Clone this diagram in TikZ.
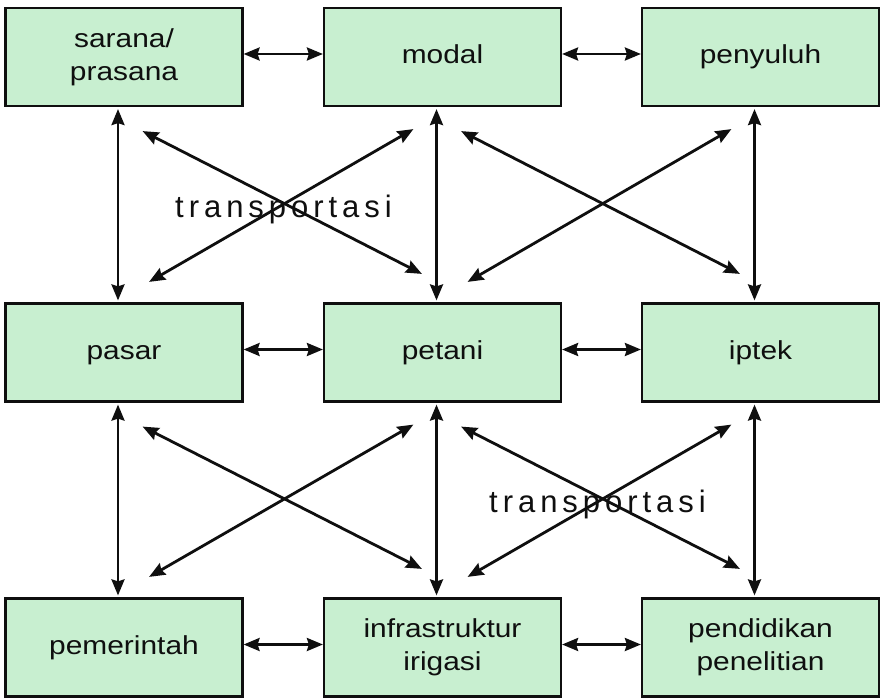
\documentclass[tikz,border=0pt]{standalone}
\usepackage{fontspec}
\setmainfont{Liberation Sans}
\newfontfamily\boxfont[FakeStretch=1.15]{Liberation Sans}
\newfontfamily\trfont[LetterSpace=16]{Liberation Sans}
\usetikzlibrary{arrows.meta}
\definecolor{boxgreen}{RGB}{200,239,208}
\definecolor{ink}{RGB}{15,15,15}
\newcommand{\bxt}[1]{\raisebox{-4pt}{\begin{tabular}{@{}c@{}}#1\end{tabular}}}
\begin{document}
\begin{tikzpicture}[x=1pt,y=-1pt,
  box/.style={draw=ink, line width=2.2pt, fill=boxgreen, minimum width=237pt, minimum height=98pt, inner sep=0pt, font=\boxfont\fontsize{26}{33}\selectfont, text=ink},
  link/.style={draw=ink, line width=2.8pt, {Stealth[length=16pt,width=13pt,inset=2pt]}-{Stealth[length=16pt,width=13pt,inset=2pt]}},
  lbl/.style={font=\trfont\fontsize{31}{36}\selectfont, text=ink, anchor=base, inner sep=0pt}]
\useasboundingbox (0,0) rectangle (880,700);
\fill[white] (0,0) rectangle (880,700);
\node[box] (sarana) at (124,57) {\bxt{sarana/\\prasana}};
\node[box] (modal) at (442.5,57) {\bxt{modal}};
\node[box] (penyuluh) at (760.5,57) {\bxt{penyuluh}};
\node[box] (pasar) at (124,352.5) {\bxt{pasar}};
\node[box] (petani) at (442.5,352.5) {\bxt{petani}};
\node[box] (iptek) at (760.5,352.5) {\bxt{iptek}};
\node[box] (pemerintah) at (124,647.5) {\bxt{pemerintah}};
\node[box] (infra) at (442.5,647.5) {\bxt{infrastruktur\\irigasi}};
\node[box] (pendidikan) at (760.5,647.5) {\bxt{pendidikan\\penelitian}};
% horizontal
\draw[link] ([yshift=3pt]sarana.east) -- ([yshift=3pt]modal.west);
\draw[link] ([yshift=3pt]modal.east) -- ([yshift=3pt]penyuluh.west);
\draw[link] ([yshift=3pt]pasar.east) -- ([yshift=3pt]petani.west);
\draw[link] ([yshift=3pt]petani.east) -- ([yshift=3pt]iptek.west);
\draw[link] ([yshift=3pt]pemerintah.east) -- ([yshift=3pt]infra.west);
\draw[link] ([yshift=3pt]infra.east) -- ([yshift=3pt]pendidikan.west);
% vertical
\draw[link, shorten <=2pt, shorten >=2pt] ([xshift=-6pt]sarana.south) -- ([xshift=-6pt]pasar.north);
\draw[link, shorten <=2pt, shorten >=2pt] ([xshift=-6pt]modal.south) -- ([xshift=-6pt]petani.north);
\draw[link, shorten <=2pt, shorten >=2pt] ([xshift=-6pt]penyuluh.south) -- ([xshift=-6pt]iptek.north);
\draw[link, shorten <=2pt, shorten >=2pt] ([xshift=-6pt]pasar.south) -- ([xshift=-6pt]pemerintah.north);
\draw[link, shorten <=2pt, shorten >=2pt] ([xshift=-6pt]petani.south) -- ([xshift=-6pt]infra.north);
\draw[link, shorten <=2pt, shorten >=2pt] ([xshift=-6pt]iptek.south) -- ([xshift=-6pt]pendidikan.north);
% labels
\node[lbl] (tr1) at (283.5,218) {transportasi};
\node[lbl] (tr2) at (597.5,512) {transportasi};
% diagonals
\draw[link] ([xshift=-101pt,yshift=-24pt]sarana.south east) -- ([xshift=99pt,yshift=28.5pt]petani.north west);
\draw[link] ([xshift=90.5pt,yshift=-22pt]modal.south west) -- ([xshift=-94.5pt,yshift=20.5pt]pasar.north east);
\draw[link] ([xshift=-101pt,yshift=-24pt]modal.south east) -- ([xshift=99pt,yshift=28.5pt]iptek.north west);
\draw[link] ([xshift=90.5pt,yshift=-22pt]penyuluh.south west) -- ([xshift=-94.5pt,yshift=20.5pt]petani.north east);
\draw[link] ([xshift=-101pt,yshift=-24pt]pasar.south east) -- ([xshift=99pt,yshift=28.5pt]infra.north west);
\draw[link] ([xshift=90.5pt,yshift=-22pt]petani.south west) -- ([xshift=-94.5pt,yshift=20.5pt]pemerintah.north east);
\draw[link] ([xshift=-101pt,yshift=-24pt]petani.south east) -- ([xshift=99pt,yshift=28.5pt]pendidikan.north west);
\draw[link] ([xshift=90.5pt,yshift=-22pt]iptek.south west) -- ([xshift=-94.5pt,yshift=20.5pt]infra.north east);
\end{tikzpicture}
\end{document}
